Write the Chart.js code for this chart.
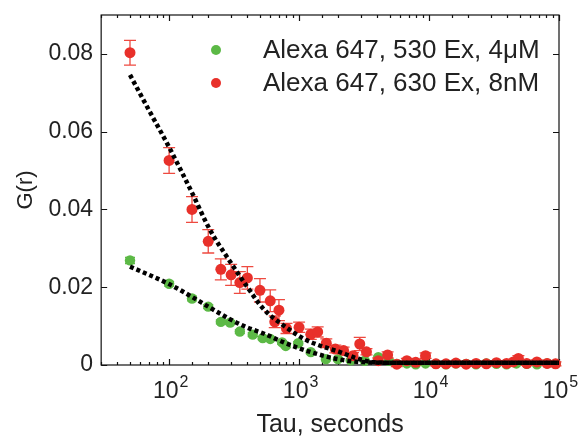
<!DOCTYPE html>
<html lang="en">
<head>
    <meta charset="UTF-8">
    <title>G(r) vs Tau</title>
    <style>
        body { margin: 0; background: #fff; }
        canvas { display: block; }
    </style>
    <script src="https://cdn.jsdelivr.net/npm/chart.js"></script>
</head>
<body>
    <canvas id="fcsChart" width="580" height="441"></canvas>

    <script>
        // Red series: Alexa 647, 630 Ex, 8nM
        const redTau = [50, 100, 150, 200, 250, 300, 350, 400, 500, 600, 650, 700, 800,
            1000, 1230, 1390, 1620, 1900, 2200, 2600, 2930, 3300, 4070, 4800, 5650, 6750,
            7900, 9400, 11300, 13500, 16100, 19300, 23000, 27600, 33000, 39500, 44500,
            48700, 56500, 67600, 81000, 94000];
        const redG = [0.0803, 0.0526, 0.0400, 0.0318, 0.0246, 0.0232, 0.0212, 0.0224,
            0.0192, 0.0165, 0.0111, 0.0141, 0.0094, 0.0097, 0.0079, 0.0085, 0.0056, 0.0041,
            0.0037, 0.0024, 0.0054, 0.0034, 0.0011, 0.0026, 0.0002, 0.0011, 0.0007, 0.0024,
            0.0003, 0.0003, 0.0005, 0.0002, 0.0004, 0.0003, 0.0006, 0.0004, 0.0008, 0.0017,
            0.0004, 0.0008, 0.0004, 0.0003];
        const redErr = [0.0032, 0.0033, 0.0033, 0.0030, 0.0027, 0.0027, 0.0028, 0.0029,
            0.0030, 0.0028, 0.0015, 0.0027, 0.0013, 0.0013, 0.0013, 0.0013, 0.0011, 0.0010,
            0.0009, 0.0008, 0.0017, 0.0008, 0.0007, 0.0008, 0.0006, 0.0006, 0.0006, 0.0007,
            0.0005, 0.0005, 0.0005, 0.0005, 0.0005, 0.0005, 0.0005, 0.0005, 0.0005, 0.0007,
            0.0005, 0.0005, 0.0005, 0.0005];

        // Green series: Alexa 647, 530 Ex, 4uM
        const greenTau = [50, 100, 150, 200, 250, 295, 350, 440, 525, 600, 740, 790, 985,
            1230, 1610, 1990, 2500, 3200, 4070, 4900, 5650, 6750, 7900, 9400, 11300, 13500,
            16100, 19300, 23000, 27600, 33000, 39500, 47000, 56500, 67600, 81000, 94000];
        const greenG = [0.0269, 0.0209, 0.0171, 0.0150, 0.0111, 0.0109, 0.0086, 0.0078,
            0.0069, 0.0067, 0.0058, 0.0049, 0.0056, 0.0033, 0.0015, 0.0015, 0.0012, 0.0011,
            0.0020, 0.0011, 0.0003, 0.0004, 0.0002, 0.0004, 0.0003, 0.0002, 0.0004, 0.0003,
            0.0002, 0.0004, 0.0003, 0.0002, 0.0004, 0.0003, 0.0002, 0.0004, 0.0003];
        const greenErr = [0.0008, 0.0006, 0.0006, 0.0005, 0.0005, 0.0005, 0.0005, 0.0005,
            0.0004, 0.0004, 0.0004, 0.0004, 0.0004, 0.0004, 0.0004, 0.0004, 0.0003, 0.0003,
            0.0003, 0.0003, 0.0003, 0.0003, 0.0003, 0.0003, 0.0003, 0.0003, 0.0003, 0.0003,
            0.0003, 0.0003, 0.0003, 0.0003, 0.0003, 0.0003, 0.0003, 0.0003, 0.0003];

        // fitted curves (dotted black)
        const redFitTau = [50, 70, 100, 150, 205, 293, 395, 533, 764, 1094, 1390, 1990, 2850, 3600, 5000, 10000, 100000];
        const redFitG = [0.0746, 0.0655, 0.0560, 0.0443, 0.0349, 0.0267, 0.0203, 0.0144, 0.0101, 0.0067, 0.0052, 0.0035, 0.0016, 0.0008, 0.0006, 0.0006, 0.0006];
        const greenFitTau = [50, 100, 152, 205, 293, 395, 533, 764, 1000, 1390, 1990, 2850, 5000, 10000, 100000];
        const greenFitG = [0.0253, 0.0208, 0.0174, 0.0148, 0.0118, 0.0097, 0.0081, 0.0058, 0.0043, 0.0028, 0.0015, 0.0008, 0.0006, 0.0006, 0.0006];

        const yTicks = [0, 0.02, 0.04, 0.06, 0.08];
        const yTickLabels = ['0', '0.02', '0.04', '0.06', '0.08'];
        const xTicks = [100, 1000, 10000, 100000];
        const xTickExp = ['2', '3', '4', '5'];

        const legendLabels = ['Alexa 647, 530 Ex, 4\u03BCM', 'Alexa 647, 630 Ex, 8nM'];

        const RED = '#e8302a';
        const GREEN = '#5cb946';
        const TEXT = '#222';

        const pts = (xs, ys) => xs.map((x, i) => ({ x: x, y: ys[i] }));

        Chart.defaults.font.family = '"Liberation Sans", Arial, sans-serif';
        Chart.defaults.color = TEXT;

        // box, inward ticks, x labels with exponents, error bars, legend
        const figurePlugin = {
            id: 'figure',
            beforeDatasetsDraw(chart) {
                const { ctx, chartArea: a, scales: { x, y } } = chart;
                ctx.save();
                ctx.strokeStyle = '#111';
                ctx.lineWidth = 1.2;
                ctx.strokeRect(a.left, a.top, a.width, a.height);
                ctx.beginPath();
                x.ticks.forEach(t => {
                    const px = Math.round(x.getPixelForValue(t.value)) + 0.5;
                    const lg = Math.log10(t.value);
                    const len = Math.abs(lg - Math.round(lg)) < 1e-6 ? 6 : 3;
                    ctx.moveTo(px, a.bottom); ctx.lineTo(px, a.bottom - len);
                    ctx.moveTo(px, a.top); ctx.lineTo(px, a.top + len);
                });
                yTicks.forEach(v => {
                    const py = Math.round(y.getPixelForValue(v)) + 0.5;
                    ctx.moveTo(a.left, py); ctx.lineTo(a.left + 6, py);
                    ctx.moveTo(a.right, py); ctx.lineTo(a.right - 6, py);
                });
                ctx.stroke();

                // x tick labels: 10 with superscript exponent
                ctx.fillStyle = TEXT;
                ctx.textBaseline = 'alphabetic';
                ctx.textAlign = 'left';
                const big = '23px "Liberation Sans", Arial, sans-serif';
                const small = '16px "Liberation Sans", Arial, sans-serif';
                xTicks.forEach((v, i) => {
                    const px = x.getPixelForValue(v);
                    ctx.font = big;
                    const w1 = ctx.measureText('10').width;
                    ctx.font = small;
                    const w2 = ctx.measureText(xTickExp[i]).width;
                    const x0 = px - (w1 + w2) / 2 + 1;
                    ctx.font = big;
                    ctx.fillText('10', x0, a.bottom + 33);
                    ctx.font = small;
                    ctx.fillText(xTickExp[i], x0 + w1 + 1, a.bottom + 22);
                });
                ctx.restore();
            },
            beforeDatasetDraw(chart, args) {
                const ds = chart.data.datasets[args.index];
                if (!ds.errors) return;
                const { ctx, scales: { x, y } } = chart;
                ctx.save();
                ctx.strokeStyle = ds.errColor;
                ctx.lineWidth = 1.3;
                ctx.beginPath();
                ds.data.forEach((p, i) => {
                    const e = ds.errors[i];
                    const px = x.getPixelForValue(p.x);
                    const y1 = y.getPixelForValue(p.y + e);
                    const y2 = y.getPixelForValue(p.y - e);
                    ctx.moveTo(px, y1); ctx.lineTo(px, y2);
                    ctx.moveTo(px - ds.capHalf, y1); ctx.lineTo(px + ds.capHalf, y1);
                    ctx.moveTo(px - ds.capHalf, y2); ctx.lineTo(px + ds.capHalf, y2);
                });
                ctx.stroke();
                ctx.restore();
            },
            afterDraw(chart) {
                const { ctx } = chart;
                ctx.save();
                ctx.font = '26px "Liberation Sans", Arial, sans-serif';
                ctx.textBaseline = 'middle';
                ctx.textAlign = 'left';
                [GREEN, RED].forEach((c, i) => {
                    const cy = 51 + i * 33;
                    ctx.fillStyle = c;
                    ctx.beginPath();
                    ctx.arc(216, cy - 1, 5, 0, Math.PI * 2);
                    ctx.fill();
                    ctx.fillStyle = TEXT;
                    ctx.fillText(legendLabels[i], 263, cy);
                });
                ctx.restore();
            }
        };

        const ctx = document.getElementById('fcsChart').getContext('2d');
        new Chart(ctx, {
            type: 'scatter',
            data: {
                datasets: [
                    {
                        type: 'line',
                        data: pts(redFitTau, redFitG),
                        borderColor: '#000',
                        borderWidth: 4.5,
                        borderDash: [4, 3],
                        borderCapStyle: 'butt',
                        pointRadius: 0,
                        fill: false,
                        cubicInterpolationMode: 'monotone',
                        clip: false
                    },
                    {
                        type: 'line',
                        data: pts(greenFitTau, greenFitG),
                        borderColor: '#000',
                        borderWidth: 4.5,
                        borderDash: [4, 3],
                        borderCapStyle: 'butt',
                        pointRadius: 0,
                        fill: false,
                        cubicInterpolationMode: 'monotone',
                        clip: false
                    },
                    {
                        data: pts(redTau, redG),
                        backgroundColor: RED,
                        borderWidth: 0,
                        pointRadius: 5.5,
                        errors: redErr,
                        errColor: '#ee4a40',
                        capHalf: 6,
                        clip: false
                    },
                    {
                        data: pts(greenTau, greenG),
                        backgroundColor: GREEN,
                        borderWidth: 0,
                        pointRadius: 5.2,
                        errors: greenErr,
                        errColor: GREEN,
                        capHalf: 5,
                        clip: false
                    }
                ]
            },
            options: {
                responsive: false,
                animation: false,
                layout: { padding: { left: 0, right: 21, top: 15, bottom: 1 } },
                plugins: { legend: { display: false }, tooltip: { enabled: false } },
                scales: {
                    x: {
                        type: 'logarithmic',
                        min: 30,
                        max: 100000,
                        grid: { display: false, drawTicks: false },
                        border: { display: false },
                        ticks: { display: false },
                        title: {
                            display: true,
                            text: 'Tau, seconds',
                            font: { size: 25 },
                            color: TEXT,
                            padding: { top: 45, bottom: 0 }
                        }
                    },
                    y: {
                        min: 0,
                        max: 0.09,
                        afterBuildTicks: s => { s.ticks = yTicks.map(v => ({ value: v })); },
                        afterFit: s => { s.paddingTop = 0; s.paddingBottom = 0; },
                        grid: { display: false, drawTicks: false },
                        border: { display: false },
                        ticks: {
                            font: { size: 23 },
                            color: TEXT,
                            padding: 8,
                            callback: (v, i) => yTickLabels[i]
                        },
                        title: {
                            display: true,
                            text: 'G(r)',
                            font: { size: 22 },
                            color: TEXT,
                            padding: { top: 13, bottom: 1 }
                        }
                    }
                }
            },
            plugins: [figurePlugin]
        });
    </script>
</body>
</html>
